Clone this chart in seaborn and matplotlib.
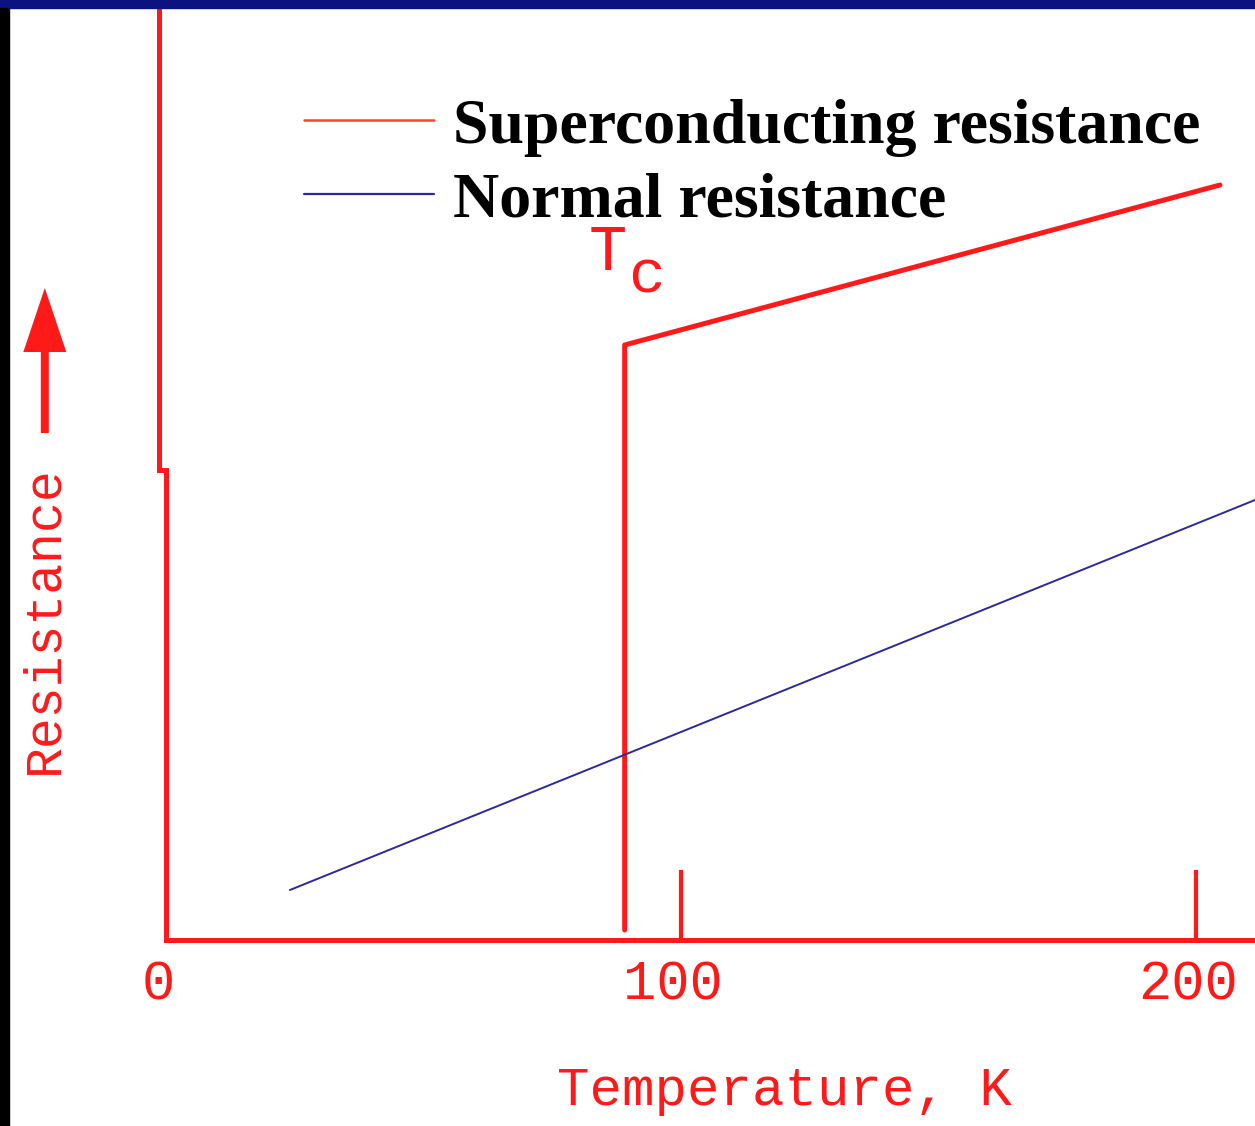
import matplotlib
matplotlib.use("Agg")
import matplotlib.pyplot as plt
import seaborn as sns
import pandas as pd
from matplotlib.lines import Line2D
from matplotlib.patches import Rectangle, FancyArrow

# ---------------- data ----------------
sc_temperature = [89.1, 89.1, 204.7]      # K
sc_resistance = [1.0, 59.5, 75.5]         # arbitrary units
normal_temperature = [24.1, 211.5]
normal_resistance = [5.0, 44.0]
axis_temperature = [-1.3, -1.3, 0.0, 0.0, 212.0]
axis_resistance = [95.0, 47.0, 47.0, 0.0, 0.0]
tick_values = [0, 100, 200]
tick_labels = ["0", "100", "200"]
tick_height = 7.0
series_labels = ["Superconducting resistance", "Normal resistance"]

RED = "#ff1a1a"
LEGEND_RED = "#ff4420"
BLUE = "#2a2a9c"
MONO = "Liberation Mono"

sc_df = pd.DataFrame({"T": sc_temperature, "R": sc_resistance})
normal_df = pd.DataFrame({"T": normal_temperature, "R": normal_resistance})
axis_df = pd.DataFrame({"T": axis_temperature, "R": axis_resistance})

sns.set_theme(style="white")
plt.rcParams["font.family"] = ["DejaVu Sans"]

fig = plt.figure(figsize=(12.55, 11.26), dpi=100)
ax = fig.add_axes([0, 0, 1, 1])
ax.set_xlim(-32.2, 211.5)
ax.set_ylim(-18.6, 94.0)
ax.set_axis_off()

# axes drawn in red like the original figure
sns.lineplot(data=axis_df, x="T", y="R", sort=False, estimator=None, ax=ax,
             color=RED, linewidth=3.6, solid_joinstyle="miter", legend=False)
ax.vlines(tick_values[1:], 0, tick_height, color=RED, linewidth=3.0)

# curves
sns.lineplot(data=sc_df, x="T", y="R", sort=False, estimator=None, ax=ax,
             color=RED, linewidth=3.6, legend=False)
sns.lineplot(data=normal_df, x="T", y="R", sort=False, estimator=None, ax=ax,
             color=BLUE, linewidth=1.4, legend=False)

# tick labels
for v, lab in zip(tick_values, tick_labels):
    ax.text(v - 1.5, -6.0, lab, ha="center", va="baseline", fontsize=40,
            color=RED, family=MONO)

ax.text(120.2, -16.5, "Temperature, K", ha="center", va="baseline",
        fontsize=39, color=RED, family=MONO)
ax.text(-23.6, 32.0, "Resistance", ha="center", va="center", rotation=90,
        fontsize=37, color=RED, family=MONO)
ax.add_patch(FancyArrow(-23.5, 50.7, 0, 14.5, width=1.55, head_width=8.35,
                        head_length=6.4, length_includes_head=True,
                        color=RED, linewidth=0))

# T_c label
ax.text(85.8, 67.0, "T", ha="center", va="baseline", fontsize=46,
        color=RED, family=MONO)
ax.text(93.4, 64.7, "c", ha="center", va="baseline", fontsize=44,
        color=RED, family=MONO)

# legend
fs = 46.0
em = fs * 100 / 72
handles = [Line2D([], [], color=LEGEND_RED, linewidth=1.8),
           Line2D([], [], color=BLUE, linewidth=1.6)]
ax.legend(handles, series_labels, loc="upper left",
          bbox_to_anchor=(304 / 1255, 1 - 98 / 1126),
          bbox_transform=fig.transFigure, frameon=False, borderpad=0,
          borderaxespad=0, handlelength=130 / em, handletextpad=19 / em,
          labelspacing=0.24, labelcolor="black",
          prop=dict(family="Liberation Serif", weight="bold", size=fs))

# frame decorations
fig.patches.append(Rectangle((0, 1 - 8 / 1126), 1, 8 / 1126,
                             transform=fig.transFigure, color="#0b1381",
                             zorder=10))
fig.patches.append(Rectangle((0, 0), 9 / 1255, 1 - 8 / 1126,
                             transform=fig.transFigure, color="black",
                             zorder=10))

fig.savefig("out.png", dpi=100, facecolor="white")
